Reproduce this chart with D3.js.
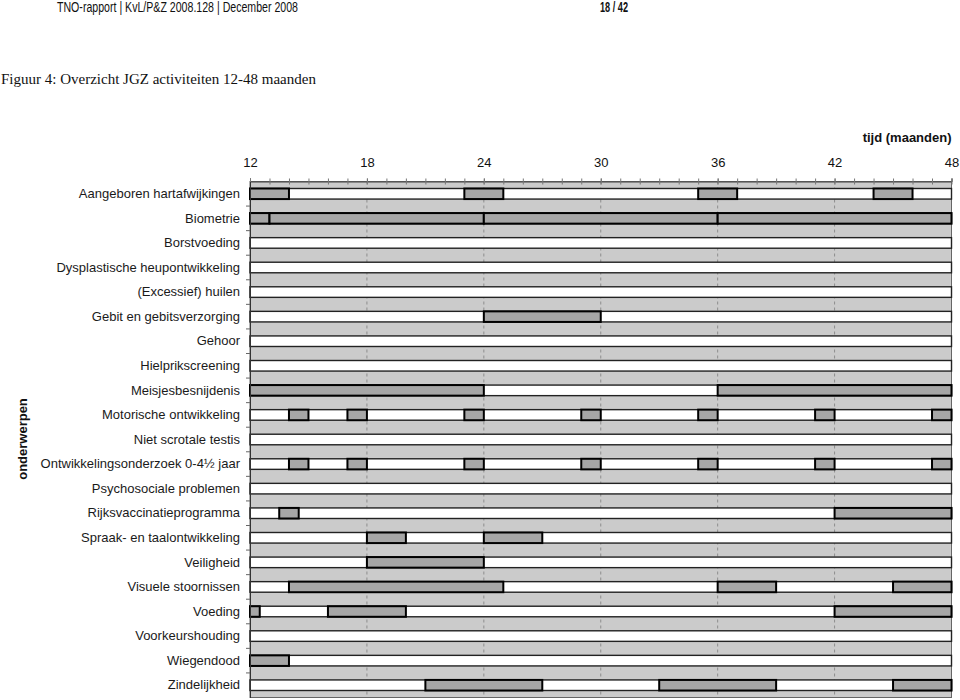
<!DOCTYPE html>
<html>
<head>
<meta charset="utf-8">
<script src="https://cdn.jsdelivr.net/npm/d3@7"></script>
<style>
  html, body { margin: 0; padding: 0; background: #fff; }
  svg { display: block; }
</style>
</head>
<body>
<svg id="chart" width="960" height="700"></svg>
<script>
const categories = [
  "Aangeboren hartafwijkingen",
  "Biometrie",
  "Borstvoeding",
  "Dysplastische heupontwikkeling",
  "(Excessief) huilen",
  "Gebit en gebitsverzorging",
  "Gehoor",
  "Hielprikscreening",
  "Meisjesbesnijdenis",
  "Motorische ontwikkeling",
  "Niet scrotale testis",
  "Ontwikkelingsonderzoek 0-4½ jaar",
  "Psychosociale problemen",
  "Rijksvaccinatieprogramma",
  "Spraak- en taalontwikkeling",
  "Veiligheid",
  "Visuele stoornissen",
  "Voeding",
  "Voorkeurshouding",
  "Wiegendood",
  "Zindelijkheid"
];
// start and end month of each activity block, per category
const activityStart = [
  [12, 23, 35, 44], [12, 13, 24, 36], [], [], [], [24], [], [], [12, 36],
  [14, 17, 23, 29, 35, 41, 47], [], [14, 17, 23, 29, 35, 41, 47], [],
  [13.5, 42], [18, 24], [18], [14, 36, 45], [12, 16, 42], [], [12], [21, 33, 45]
];
const activityEnd = [
  [14, 25, 37, 46], [13, 24, 36, 48], [], [], [], [30], [], [], [24, 48],
  [15, 18, 24, 30, 36, 42, 48], [], [15, 18, 24, 30, 36, 42, 48], [],
  [14.5, 48], [20, 27], [24], [25, 39, 48], [12.5, 20, 48], [], [14], [27, 39, 48]
];
const monthTicks = [12, 18, 24, 30, 36, 42, 48];
const minorTicks = d3.range(12, 49, 1);
const axisTitle = "tijd (maanden)";
const yTitle = "onderwerpen";
const headerText = "TNO-rapport | KvL/P&Z 2008.128 | December 2008";
const pageText = "18 / 42";
const figureTitle = "Figuur 4: Overzicht JGZ activiteiten 12-48 maanden";

const svg = d3.select("#chart");
const pLeft = 250, pRight = 951.5, pTop = 181.5, pBottom = 697.5;

const x = d3.scaleLinear().domain([12, 48]).range([pLeft, pRight]);
const y = d3.scaleBand().domain(categories).range([pTop, pBottom]).padding(0);
const trackH = y.bandwidth() * 0.43;

// page header
svg.append("text").attr("x", 57).attr("y", 12)
  .attr("font-family", "'Liberation Sans Narrow','Arial Narrow','Liberation Sans',Arial,sans-serif")
  .attr("font-size", 14).attr("fill", "#111")
  .attr("textLength", 241).attr("lengthAdjust", "spacingAndGlyphs")
  .text(headerText);
svg.append("text").attr("x", 600).attr("y", 12)
  .attr("font-family", "'Liberation Sans Narrow','Arial Narrow','Liberation Sans',Arial,sans-serif")
  .attr("font-size", 14).attr("font-weight", "bold").attr("fill", "#111")
  .attr("textLength", 28).attr("lengthAdjust", "spacingAndGlyphs")
  .text(pageText);
svg.append("text").attr("x", 1).attr("y", 84)
  .attr("font-family", "'Liberation Serif','Times New Roman',serif")
  .attr("font-size", 15).attr("fill", "#111")
  .text(figureTitle);

// plot background
svg.append("rect").attr("x", pLeft).attr("y", pTop)
  .attr("width", pRight - pLeft).attr("height", pBottom - pTop)
  .attr("fill", "#cbcbcb").attr("stroke", "#666").attr("stroke-width", 1);

// gridlines
svg.append("g").selectAll("line").data(monthTicks.slice(1, -1)).join("line")
  .attr("x1", d => x(d)).attr("x2", d => x(d))
  .attr("y1", pTop).attr("y2", pBottom)
  .attr("stroke", "#8c8c8c").attr("stroke-width", 1)
  .attr("stroke-dasharray", "3,3");

// tracks
const rows = svg.append("g").selectAll("g").data(categories).join("g");
rows.append("rect")
  .attr("x", x(12)).attr("width", x(48) - x(12))
  .attr("y", d => y(d) + (y.bandwidth() - trackH) / 2)
  .attr("height", trackH)
  .attr("fill", "#fff").attr("stroke", "#222").attr("stroke-width", 1.4);

// activity blocks
const blocks = [];
categories.forEach((c, i) => {
  activityStart[i].forEach((s, j) => blocks.push({ cat: c, start: s, end: activityEnd[i][j] }));
});
svg.append("g").selectAll("rect").data(blocks).join("rect")
  .attr("x", d => x(d.start)).attr("width", d => x(d.end) - x(d.start))
  .attr("y", d => y(d.cat) + (y.bandwidth() - trackH) / 2)
  .attr("height", trackH)
  .attr("fill", "#a6a6a6").attr("stroke", "#000").attr("stroke-width", 2);

// top axis with labels
const gx = svg.append("g").attr("transform", `translate(0,${pTop})`)
  .call(d3.axisTop(x).tickValues(monthTicks).tickSize(3).tickPadding(12).tickFormat(d3.format("d")));
gx.select(".domain").attr("stroke", "#444");
gx.selectAll(".tick line").attr("stroke", "#666");
gx.selectAll(".tick text").attr("font-family", "'Liberation Sans',Arial,sans-serif")
  .attr("font-size", 13).attr("fill", "#111");
// minor ticks crossing the axis
svg.append("g").attr("transform", `translate(0,${pTop - 3})`)
  .call(d3.axisBottom(x).tickValues(minorTicks).tickSize(6).tickFormat(""))
  .call(g => g.select(".domain").remove())
  .call(g => g.selectAll(".tick line").attr("stroke", "#777"));

// left axis with category labels
const gy = svg.append("g").attr("transform", `translate(${pLeft},0)`)
  .call(d3.axisLeft(y).tickSize(0).tickPadding(10));
gy.select(".domain").attr("stroke", "#333");
gy.selectAll(".tick text").attr("font-family", "'Liberation Sans',Arial,sans-serif")
  .attr("font-size", 13).attr("fill", "#1a1a1a");
// boundary ticks between categories
svg.append("g").selectAll("line").data(categories.slice(1)).join("line")
  .attr("x1", pLeft - 4).attr("x2", pLeft)
  .attr("y1", d => y(d)).attr("y2", d => y(d))
  .attr("stroke", "#666");

// axis titles
svg.append("text").attr("x", pRight).attr("y", 142)
  .attr("text-anchor", "end")
  .attr("font-family", "'Liberation Sans',Arial,sans-serif")
  .attr("font-size", 13).attr("font-weight", "bold").attr("fill", "#111")
  .text(axisTitle);
svg.append("text")
  .attr("transform", "translate(27,439) rotate(-90)")
  .attr("text-anchor", "middle")
  .attr("font-family", "'Liberation Sans',Arial,sans-serif")
  .attr("font-size", 13).attr("font-weight", "bold").attr("fill", "#111")
  .text(yTitle);
</script>
</body>
</html>
